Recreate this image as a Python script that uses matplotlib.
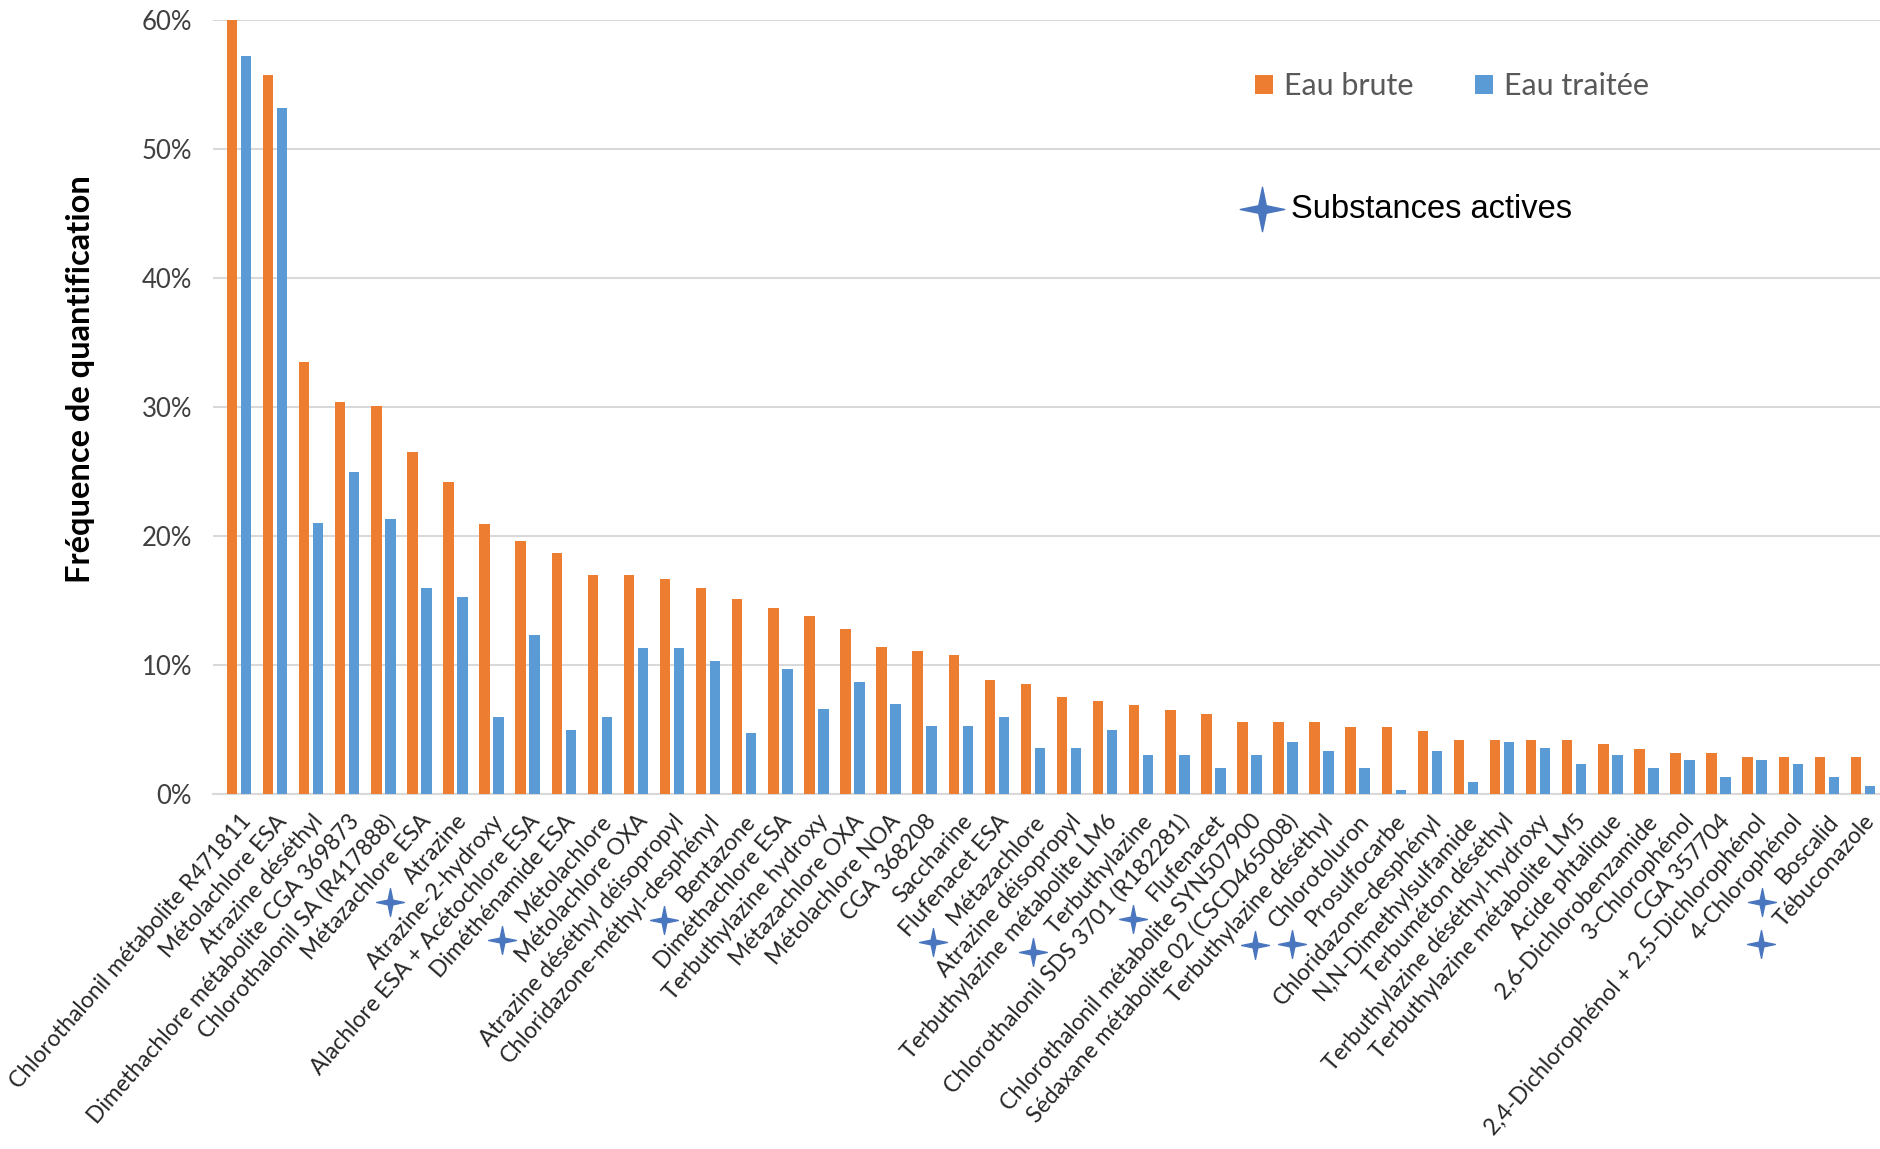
import matplotlib
matplotlib.use('Agg')
import matplotlib.pyplot as plt
import numpy as np
from matplotlib.path import Path
from matplotlib.ticker import PercentFormatter

# ------------------------------------------------------------------
# Donnees (frequence de quantification en %)
# ------------------------------------------------------------------
substances = [
    'Chlorothalonil métabolite R471811', 'Métolachlore ESA', 'Atrazine déséthyl',
    'Dimethachlore métabolite CGA 369873', 'Chlorothalonil SA (R417888)', 'Métazachlore ESA',
    'Atrazine', 'Atrazine-2-hydroxy', 'Alachlore ESA + Acétochlore ESA', 'Diméthénamide ESA',
    'Métolachlore', 'Métolachlore OXA', 'Atrazine déséthyl déisopropyl',
    'Chloridazone-méthyl-desphényl', 'Bentazone', 'Diméthachlore ESA', 'Terbuthylazine hydroxy',
    'Métazachlore OXA', 'Métolachlore NOA', 'CGA 368208', 'Saccharine', 'Flufenacet ESA',
    'Métazachlore', 'Atrazine déisopropyl', 'Terbuthylazine métabolite LM6', 'Terbuthylazine',
    'Chlorothalonil SDS 3701 (R182281)', 'Flufenacet', 'Chlorothalonil métabolite SYN507900',
    'Sédaxane métabolite 02 (CSCD465008)', 'Terbuthylazine déséthyl', 'Chlorotoluron',
    'Prosulfocarbe', 'Chloridazone-desphényl', 'N,N-Dimethylsulfamide', 'Terbuméton déséthyl',
    'Terbuthylazine déséthyl-hydroxy', 'Terbuthylazine métabolite LM5', 'Acide phtalique',
    '2,6-Dichlorobenzamide', '3-Chlorophénol', 'CGA 357704',
    '2,4-Dichlorophénol + 2,5-Dichlorophénol', '4-Chlorophénol', 'Boscalid', 'Tébuconazole',
]
eau_brute = [60.0, 55.7, 33.5, 30.4, 30.1, 26.5, 24.2, 20.9, 19.6, 18.7,
             17.0, 17.0, 16.7, 16.0, 15.1, 14.4, 13.8, 12.8, 11.4, 11.1,
             10.8, 8.8, 8.5, 7.5, 7.2, 6.9, 6.5, 6.2, 5.6, 5.6,
             5.6, 5.2, 5.2, 4.9, 4.2, 4.2, 4.2, 4.2, 3.9, 3.5,
             3.2, 3.2, 2.9, 2.9, 2.9, 2.9]
eau_traitee = [57.2, 53.2, 21.0, 25.0, 21.3, 16.0, 15.3, 6.0, 12.3, 5.0,
               6.0, 11.3, 11.3, 10.3, 4.7, 9.7, 6.6, 8.7, 7.0, 5.3,
               5.3, 6.0, 3.6, 3.6, 5.0, 3.0, 3.0, 2.0, 3.0, 4.0,
               3.3, 2.0, 0.3, 3.3, 0.9, 4.0, 3.6, 2.3, 3.0, 2.0,
               2.6, 1.3, 2.6, 2.3, 1.3, 0.6]
actives = ['Atrazine', 'Métolachlore', 'Bentazone', 'Métazachlore', 'Terbuthylazine',
           'Flufenacet', 'Chlorotoluron', 'Prosulfocarbe', 'Boscalid', 'Tébuconazole']

ORANGE = '#ED7D31'
BLEU = '#5B9BD5'
ETOILE = '#4A76BF'

# etoile a 4 branches
verts = [(0, 1), (0.17, 0.17), (1, 0), (0.17, -0.17), (0, -1), (-0.17, -0.17),
         (-1, 0), (-0.17, 0.17), (0, 1)]
codes = [Path.MOVETO] + [Path.LINETO] * 7 + [Path.CLOSEPOLY]
star = Path(verts, codes)

W, H = 1881, 1149
fig = plt.figure(figsize=(W / 100, H / 100), dpi=100)
ax = fig.add_axes([213 / W, 1 - 794 / H, (W - 213) / W, 774 / H])

x = np.arange(len(substances))
larg = 0.29
ax.bar(x - 0.194, eau_brute, larg, color=ORANGE, label='Eau brute', zorder=3)
ax.bar(x + 0.194, eau_traitee, larg, color=BLEU, label='Eau traitée', zorder=3)

ax.set_xlim(-0.72, len(substances) - 0.5)
ax.set_ylim(0, 60)
ax.set_yticks(np.arange(0, 61, 10))
ax.yaxis.set_major_formatter(PercentFormatter(100, decimals=0))
ax.grid(axis='y', color='#D9D9D9', linewidth=1.5, zorder=0)
for s in ['top', 'right', 'left']:
    ax.spines[s].set_visible(False)
ax.spines['bottom'].set_color('#D9D9D9')
ax.spines['bottom'].set_linewidth(1.5)
ax.tick_params(axis='both', length=0)
ax.tick_params(axis='y', pad=15, labelsize=18.5, labelcolor='#404040')
for t in ax.get_yticklabels():
    t.set_fontfamily('Lato')

ax.set_xticks(x)
ax.set_xticklabels(substances, rotation=49, ha='right', rotation_mode='anchor',
                   fontsize=16.5, family='Lato', color='#262626')
ax.tick_params(axis='x', pad=12)

ax.set_ylabel('Fréquence de quantification', fontsize=23.5, fontweight='bold',
              family='Lato')
ax.yaxis.set_label_coords(-0.0705, 0.536)

leg = ax.legend(loc='center left', bbox_to_anchor=(1255 / W, 1 - 86 / H),
                bbox_transform=fig.transFigure, ncol=2, frameon=False,
                handlelength=0.6, handleheight=0.6, handletextpad=0.35,
                columnspacing=2.0, borderpad=0, borderaxespad=0,
                prop={'family': 'Lato', 'size': 22})
for t in leg.get_texts():
    t.set_color('#595959')

# legende substances actives
fig.lines.append(plt.Line2D([1262 / W], [1 - 209 / H], marker=star, markersize=32,
                            color=ETOILE, linestyle='none', transform=fig.transFigure))
fig.text(1291 / W, 1 - 209 / H, 'Substances actives', fontsize=23.5,
         family='Liberation Sans', va='center', ha='left', color='black')

# etoiles devant les substances actives
fig.canvas.draw()
inv = fig.transFigure.inverted()
for lbl in ax.get_xticklabels():
    if lbl.get_text() in actives:
        bb = lbl.get_window_extent()
        px, py = inv.transform((bb.x0 - 10, bb.y0 - 14))
        fig.lines.append(plt.Line2D([px], [py], marker=star, markersize=20,
                                    color=ETOILE, linestyle='none',
                                    transform=fig.transFigure))

fig.savefig('out.png', dpi=100)
